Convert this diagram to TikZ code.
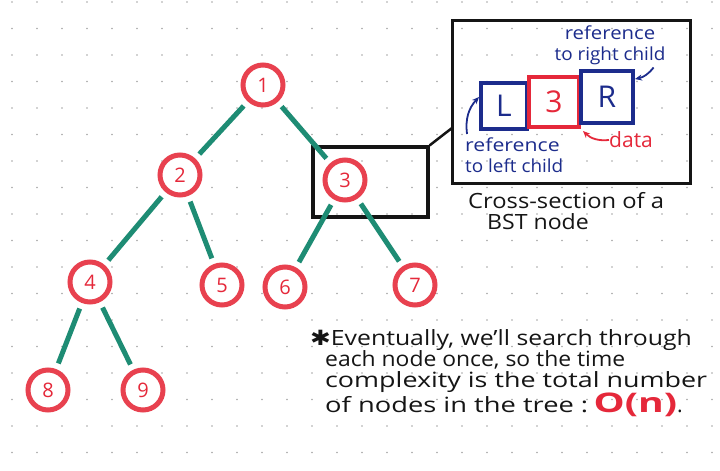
\documentclass[tikz,border=0pt]{standalone}
\usepackage{fontspec}
\setmainfont{Open Sans}
\newfontfamily\dejavu{DejaVu Sans}
\usetikzlibrary{arrows.meta}
\definecolor{ring}{HTML}{E8414F}
\definecolor{teal2}{HTML}{1E8C74}
\definecolor{navy}{HTML}{1C2C8C}
\definecolor{redink}{HTML}{E5283A}
\definecolor{ink}{HTML}{151515}
\begin{document}
\begin{tikzpicture}[x=1pt,y=-1pt,
  bst/.style={circle,draw=ring,line width=5pt,fill=white,minimum size=40pt,inner sep=0pt,
    text=redink,font=\fontsize{20}{20}\selectfont},
  edge/.style={draw=teal2,line width=5pt,shorten <=6pt,shorten >=6pt},
  cell/.style={draw=navy,line width=4pt,fill=white,inner sep=0pt,text=navy,font=\fontsize{30}{30}\selectfont},
  blue lab/.style={text=navy,font=\fontsize{18}{21}\selectfont,inner sep=0pt},
  note/.style={text=ink,font=\fontsize{21}{21}\selectfont,anchor=base west,inner sep=0pt},
  captiontext/.style={text=ink,font=\fontsize{21}{21}\selectfont,anchor=base west,inner sep=0pt},
  pointer/.style={line width=1.8pt,-{Stealth[length=7pt,width=6pt]}}
]
\useasboundingbox (0,0) rectangle (720,471);
\fill[white] (0,0) rectangle (720,471);
% dot grid
\foreach \i in {0,...,28}{\foreach \j in {0,...,17}{\fill[black!35] (12+\i*25,2+\j*26.5) circle (0.8);}}
% selection box around node 3
\node[draw=ink,line width=3.2pt,minimum width=115pt,minimum height=70pt,inner sep=0pt] (sel) at (370.5,182) {};
% tree
\node[bst] (n1) at (263,85) {1};
\node[bst] (n2) at (180,175) {2};
\node[bst] (n3) at (345,180) {3};
\node[bst] (n4) at (90,282) {4};
\node[bst] (n5) at (222,285) {5};
\node[bst] (n6) at (285,287) {6};
\node[bst] (n7) at (415,285) {7};
\node[bst] (n8) at (48,390) {8};
\node[bst] (n9) at (143,390) {9};
\foreach \a/\b in {n1/n2,n1/n3,n2/n4,n2/n5,n3/n6,n3/n7,n4/n8,n4/n9}{\draw[edge] (\a) -- (\b);}
% cross-section box
\node[draw=ink,line width=3pt,minimum width=238pt,minimum height=163pt,inner sep=0pt] (cs) at (571,101.5) {};
\coordinate (csjoin) at (452,128);
\draw[ink,line width=2.5pt] (sel.north east) -- (csjoin);
\node[cell,minimum size=46pt] (L) at (504,106) {L};
\node[cell,draw=redink,text=redink,minimum size=50pt] (D) at (554,102) {3};
\node[cell,minimum size=52pt] (R) at (607,97) {R};
\node[blue lab,align=center,anchor=north] (rlab) at (610,26) {\scalebox{1.13}[1]{reference}\\\scalebox{1.05}[1]{to right child}};
\node[blue lab,align=left,anchor=north west] (llab) at (465,138) {\scalebox{1.18}[1]{reference}\\\scalebox{1.05}[1]{to left child}};
\node[text=redink,font=\fontsize{21}{21}\selectfont,inner sep=0pt,anchor=west] (dlab) at (609,140) {data};
\draw[pointer,navy] ([xshift=-12pt,yshift=-2pt]rlab.south east) to[bend left=20] ([yshift=-10pt]R.north east);
\draw[pointer,navy] ([xshift=2pt,yshift=4pt]llab.north west) to[bend left=25] ([yshift=9pt]L.west);
\draw[pointer,redink] (dlab.west) to[bend left=25] ([xshift=2pt,yshift=-2pt]D.south east);
\node[captiontext] (capt1) at (468,208) {\scalebox{1.13}[1]{Cross-section of a}};
\node[captiontext] (capt2) at (487,229) {\scalebox{1.1}[1]{BST node}};
% note
\node[note] (l1) at (310,345) {\scalebox{1.18}[1]{{\dejavu ✱}Eventually, we’ll search through}};
\node[note] (l2) at (325,366) {\scalebox{1.09}[1]{each node once, so the time}};
\node[note] (l3) at (325,387) {\scalebox{1.28}[1]{complexity is the total number}};
\node[note] (l4) at (325,412) {\scalebox{1.3}[1]{of nodes in the tree :} \textcolor{redink}{\fontsize{27}{27}\selectfont\bfseries\scalebox{1.45}[1]{O(n)}}.};
\end{tikzpicture}
\end{document}
